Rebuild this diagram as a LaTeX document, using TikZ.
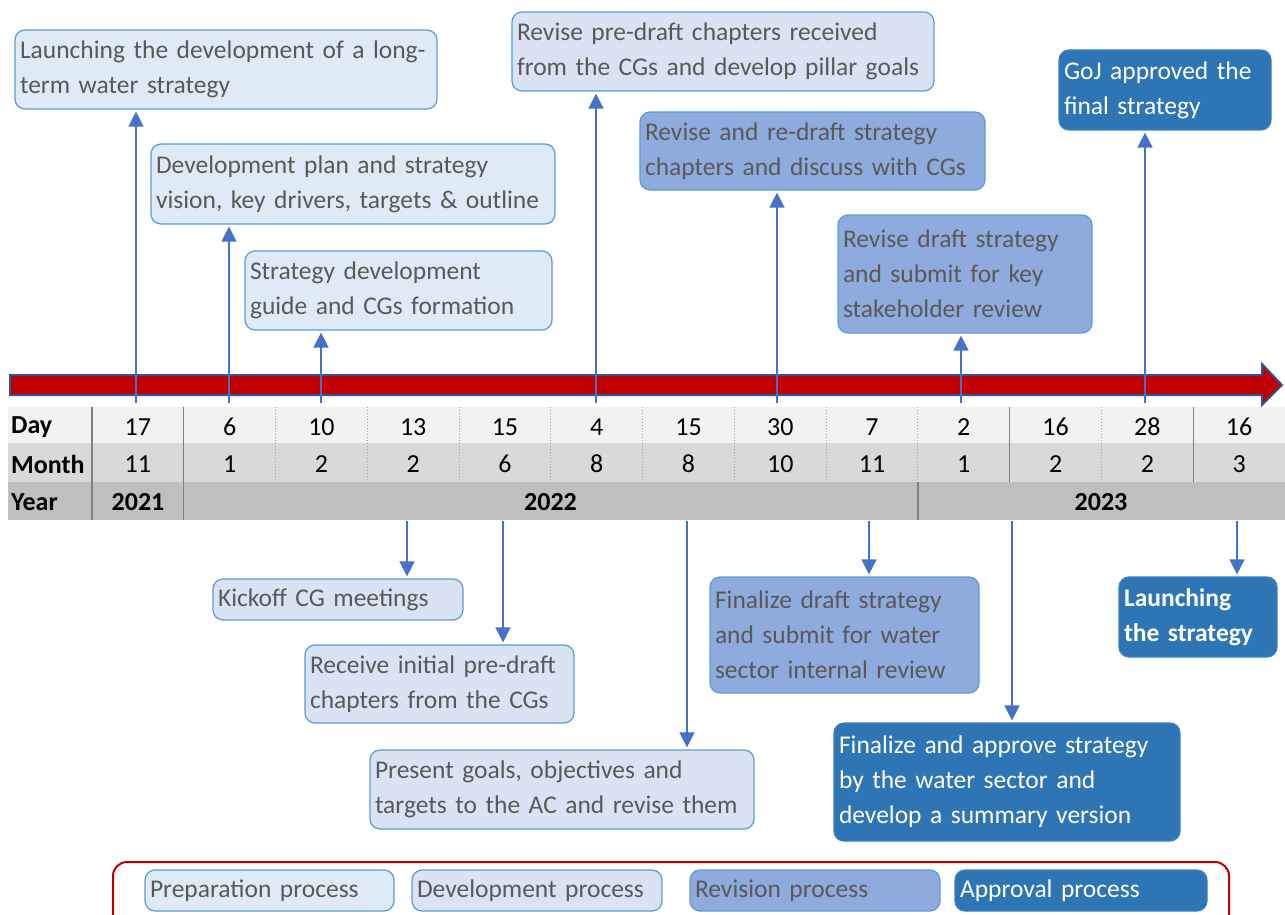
\documentclass[tikz,border=0pt]{standalone}
\usepackage{fontspec}
\setmainfont{Carlito}
\usetikzlibrary{arrows.meta}
\definecolor{txtgray}{HTML}{595959}
\definecolor{prepfill}{HTML}{DEEBF7}
\definecolor{devfill}{HTML}{DAE3F3}
\definecolor{revfill}{HTML}{8FAADC}
\definecolor{apprfill}{HTML}{2E75B6}
\definecolor{boxline}{HTML}{5B9BD5}
\definecolor{apprline}{HTML}{3A80C2}
\definecolor{connblue}{HTML}{4472C4}
\definecolor{arrowred}{HTML}{C00000}
\definecolor{arrowblue}{HTML}{2F5597}
\definecolor{rowday}{HTML}{F2F2F2}
\definecolor{rowmonth}{HTML}{D9D9D9}
\definecolor{rowyear}{HTML}{BFBFBF}
\definecolor{sepgray}{HTML}{808080}
\definecolor{dotgray}{HTML}{A0A0A0}
\begin{document}
\begin{tikzpicture}[x=1pt,y=-1pt,
  box/.style={rounded corners=10pt, line width=1.2pt, inner xsep=5pt, inner ysep=2pt,
    align=left, font=\fontsize{25.5}{35}\selectfont, text=txtgray},
  prep/.style={box, fill=prepfill, draw=boxline},
  dev/.style={box, fill=devfill, draw=boxline},
  rev/.style={box, fill=revfill, draw=boxline},
  appr/.style={box, fill=apprfill, draw=apprline, text=white},
  conn/.style={draw=connblue, line width=1.5pt, shorten >=2pt,
    -{Triangle[width=15pt,length=15pt]}},
  tabtxt/.style={font=\fontsize{26}{28}\selectfont, text=black, inner sep=0pt},
  tablbl/.style={font=\fontsize{26}{28}\selectfont\bfseries, text=black, inner sep=0pt, anchor=west},
  solidsep/.style={draw=sepgray, line width=1.2pt},
  dotsep/.style={draw=dotgray, line width=1pt, dotted}
]
\useasboundingbox (0,0) rectangle (1285,915);

% ---------- table ----------
\fill[rowday]   (8,407) rectangle (1285,443);
\fill[rowmonth] (8,443) rectangle (1285,482);
\fill[rowyear]  (8,482) rectangle (1285,520);
\foreach \i in {0,1,10,12} \draw[solidsep] ({92+91.77*\i},407) -- ({92+91.77*\i},482);
\foreach \i in {2,...,9,11,13} \draw[dotsep] ({92+91.77*\i},407) -- ({92+91.77*\i},482);
\foreach \i in {0,1,9} \draw[solidsep] ({92+91.77*\i},482) -- ({92+91.77*\i},520);

\node[tablbl] (lday) at (11,427) {Day};
\node[tablbl] (lmonth) at (11,464) {Month};
\node[tablbl] (lyear) at (11,502) {Year};
\foreach \d [count=\i from 0] in {17,6,10,13,15,4,15,30,7,2,16,28,16}
  \node[tabtxt] (day\i) at ({92+91.77*(\i+0.5)},427) {\d};
\foreach \m [count=\i from 0] in {11,1,2,2,6,8,8,10,11,1,2,2,3}
  \node[tabtxt] (mon\i) at ({92+91.77*(\i+0.5)},464) {\m};
\node[tabtxt, font=\fontsize{26}{28}\selectfont\bfseries] (y2021) at (138,502) {2021};
\node[tabtxt, font=\fontsize{26}{28}\selectfont\bfseries] (y2022) at (550.5,502) {2022};
\node[tabtxt, font=\fontsize{26}{28}\selectfont\bfseries] (y2023) at (1101,502) {2023};

% ---------- timeline arrow ----------
\draw[fill=arrowred, draw=arrowblue, line width=2pt, line join=miter]
  (10,375) -- (1262,375) -- (1262,364) -- (1282,385) -- (1262,405) -- (1262,395) -- (10,395) -- cycle;

% ---------- upper boxes ----------
\node[prep, minimum height=79pt, text width=412pt] (b1) at (226,69.5)
  {Launching the development of a long-\\term water strategy};
\node[prep, minimum height=80pt, text width=394pt] (b2) at (353,184)
  {Development plan and strategy\\vision, key drivers, targets \& outline};
\node[prep, minimum height=79pt, text width=297pt] (b3) at (398.5,290.5)
  {Strategy development\\guide and CGs formation};
\node[dev, minimum height=79pt, text width=412pt] (b4) at (723,51.5)
  {Revise pre-draft chapters received\\from the CGs and develop pillar goals};
\node[rev, minimum height=78pt, text width=335pt] (b5) at (812.5,151)
  {Revise and re-draft strategy\\chapters and discuss with CGs};
\node[rev, minimum height=118pt, text width=244pt] (b6) at (965,274)
  {Revise draft strategy\\and submit for key\\stakeholder review};
\node[appr, minimum height=80pt, text width=202pt] (b7) at (1165,90)
  {GoJ approved the\\final strategy};

% ---------- lower boxes ----------
\node[dev, minimum height=41pt, text width=240pt] (b8) at (338,599.5)
  {Kickoff CG meetings};
\node[dev, minimum height=78pt, text width=259pt] (b9) at (439.5,684)
  {Receive initial pre-draft\\chapters from the CGs};
\node[dev, minimum height=79pt, text width=374pt] (b10) at (562,789.5)
  {Present goals, objectives and\\targets to the AC and revise them};
\node[rev, minimum height=116pt, text width=259pt] (b11) at (844.5,635)
  {Finalize draft strategy\\and submit for water\\sector internal review};
\node[appr, minimum height=118pt, text width=336pt] (b12) at (1007,782)
  {Finalize and approve strategy\\by the water sector and\\develop a summary version};
\node[appr, minimum height=80pt, text width=148pt, font=\fontsize{25.5}{35}\selectfont\bfseries] (b13) at (1198,617)
  {Launching\\the strategy};

% ---------- connectors ----------
\coordinate (u0) at (136,403);
\coordinate (u1) at (229,403);
\coordinate (u2) at (321,403);
\coordinate (u5) at (596,403);
\coordinate (u7) at (777,403);
\coordinate (u9) at (961,403);
\coordinate (u11) at (1145,403);
\draw[conn] (u0) -- (u0 |- b1.south);
\draw[conn] (u1) -- (u1 |- b2.south);
\draw[conn] (u2) -- (u2 |- b3.south);
\draw[conn] (u5) -- (u5 |- b4.south);
\draw[conn] (u7) -- (u7 |- b5.south);
\draw[conn] (u9) -- (u9 |- b6.south);
\draw[conn] (u11) -- (u11 |- b7.south);

\coordinate (l3) at (407,521);
\coordinate (l4) at (503,521);
\coordinate (l6) at (687,521);
\coordinate (l8) at (869,521);
\coordinate (l10) at (1012,521);
\coordinate (l12) at (1237,521);
\draw[conn] (l3) -- (l3 |- b8.north);
\draw[conn] (l4) -- (l4 |- b9.north);
\draw[conn] (l6) -- (l6 |- b10.north);
\draw[conn] (l8) -- (l8 |- b11.north);
\draw[conn] (l10) -- (l10 |- b12.north);
\draw[conn] (l12) -- (l12 |- b13.north);

% ---------- legend ----------
\draw[draw=arrowred, line width=2pt, rounded corners=14pt] (113,862) rectangle (1229,935);
\node[prep, minimum height=41pt, text width=239pt] (lg1) at (269.5,890.5) {Preparation process};
\node[dev, minimum height=41pt, text width=240pt] (lg2) at (537,890.5) {Development process};
\node[rev, minimum height=41pt, text width=240pt] (lg3) at (815,890.5) {Revision process};
\node[appr, minimum height=41pt, text width=242pt] (lg4) at (1081,890.5) {Approval process};
\end{tikzpicture}
\end{document}
